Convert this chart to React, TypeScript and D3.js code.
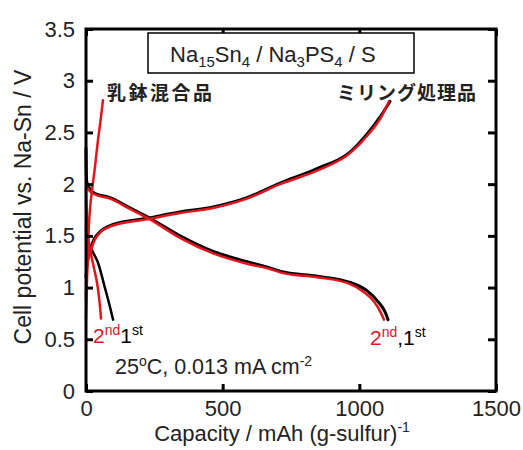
import React, { useEffect, useRef } from "react";
import * as d3 from "d3";

// capacity (mAh/g-sulfur), potential (V)
const xTicks = [0, 500, 1000, 1500];
const yTicks = [0, 0.5, 1, 1.5, 2, 2.5, 3, 3.5];

const milledDischarge1st: [number, number][] = [
  [0, 2.35], [1, 2.12], [3, 2.02], [15, 1.95], [33, 1.91], [88, 1.87], [161, 1.77],
  [234, 1.67], [344, 1.5], [465, 1.35], [589, 1.25], [673, 1.19], [722, 1.15],
  [845, 1.11], [966, 1.05], [1028, 0.97], [1070, 0.86], [1095, 0.76], [1105, 0.69],
];
const milledDischarge2nd: [number, number][] = [
  [0, 2.02], [3, 1.98], [15, 1.93], [33, 1.9], [88, 1.86], [161, 1.76], [234, 1.66],
  [344, 1.48], [465, 1.33], [589, 1.23], [673, 1.18], [722, 1.14], [845, 1.1],
  [960, 1.04], [1015, 0.96], [1055, 0.86], [1078, 0.76], [1090, 0.69],
];
const milledCharge1st: [number, number][] = [
  [0, 1.1], [5, 1.26], [15, 1.36], [30, 1.47], [51, 1.54], [99, 1.61], [223, 1.67],
  [344, 1.73], [465, 1.78], [589, 1.87], [710, 2.01], [845, 2.15], [966, 2.31],
  [1039, 2.52], [1076, 2.65], [1112, 2.8],
];
const milledCharge2nd: [number, number][] = [
  [0, 0.9], [5, 1.22], [15, 1.33], [30, 1.45], [51, 1.53], [99, 1.6], [223, 1.66],
  [344, 1.72], [465, 1.77], [589, 1.86], [710, 2.0], [845, 2.13], [966, 2.3],
  [1039, 2.5], [1076, 2.63], [1108, 2.8],
];
const mortarDischarge1st: [number, number][] = [
  [0, 1.55], [8, 1.45], [20, 1.37], [44, 1.24], [69, 1.0], [88, 0.81], [99, 0.69],
];
const mortarDischarge2nd: [number, number][] = [
  [0, 1.95], [3, 1.7], [8, 1.5], [18, 1.33], [30, 1.18], [42, 1.02], [50, 0.85], [55, 0.7],
];
const mortarCharge: [number, number][] = [
  [0, 0.7], [3, 1.0], [6, 1.3], [11, 1.62], [16, 1.8], [22, 1.94], [33, 2.17],
  [44, 2.43], [55, 2.65], [62, 2.81],
];

const left = 86;
const right = 496;
const top = 29;
const bottom = 391;
const RED = "#e3141c";
const FONT = "'Liberation Sans', Arial, sans-serif";
const JP = "'Noto Sans CJK JP', sans-serif";

const x = d3.scaleLinear().domain([0, 1500]).range([left, right]);
const y = d3.scaleLinear().domain([0, 3.5]).range([bottom, top]);
const line = d3
  .line<[number, number]>()
  .x((d) => x(d[0]))
  .y((d) => y(d[1]))
  .curve(d3.curveMonotoneX);

export default function App() {
  const axes = useRef<SVGGElement>(null);

  useEffect(() => {
    const g = d3.select(axes.current);
    g.selectAll("*").remove();

    g.append("g")
      .attr("transform", "translate(" + left + ",0)")
      .call(d3.axisLeft(y).tickValues(yTicks).tickSizeInner(-7).tickSizeOuter(0).tickPadding(11).tickFormat(d3.format("")));
    g.append("g")
      .attr("transform", "translate(" + right + ",0)")
      .call(d3.axisRight(y).tickValues(yTicks).tickSizeInner(-8).tickSizeOuter(0).tickFormat(() => ""));
    g.append("g")
      .attr("transform", "translate(0," + bottom + ")")
      .call(d3.axisBottom(x).tickValues(xTicks).tickSizeInner(-7).tickSizeOuter(0).tickPadding(9).tickFormat(d3.format("")));
    g.append("g")
      .attr("transform", "translate(0," + top + ")")
      .call(d3.axisTop(x).tickValues(xTicks).tickSizeInner(-7).tickSizeOuter(0).tickFormat(() => ""));

    g.selectAll(".domain").remove();
    g.selectAll(".tick line").attr("stroke", "#000").attr("stroke-width", 3);
    g.selectAll(".tick text")
      .attr("font-size", 22)
      .attr("font-family", FONT)
      .attr("fill", "#222");
  }, []);

  return (
    <svg
      width={523}
      height={450}
      style={{ position: "absolute", left: 0, top: 0, display: "block", background: "#fff" }}
    >
      <g fill="none" strokeLinejoin="round" strokeLinecap="round">
        <path d={line(milledDischarge1st) || ""} stroke="#000" strokeWidth={3} />
        <path d={line(milledCharge1st) || ""} stroke="#000" strokeWidth={3} />
        <path d={line(mortarDischarge1st) || ""} stroke="#000" strokeWidth={2.5} />
        <path d={line(milledDischarge2nd) || ""} stroke={RED} strokeWidth={2.5} />
        <path d={line(milledCharge2nd) || ""} stroke={RED} strokeWidth={2.5} />
        <path d={line(mortarDischarge2nd) || ""} stroke={RED} strokeWidth={2.5} />
        <path d={line(mortarCharge) || ""} stroke={RED} strokeWidth={2.5} />
      </g>

      <g ref={axes} />
      <rect x={left} y={top} width={right - left} height={bottom - top} fill="none" stroke="#000" strokeWidth={3} />

      <rect x={148} y={33} width={266} height={40} fill="#fff" stroke="#000" strokeWidth={1.5} />
      <text x={170} y={62} fontSize={22} fontFamily={FONT} fill="#222">
        Na<tspan dy={5} fontSize={15}>15</tspan>
        <tspan dy={-5}>Sn</tspan>
        <tspan dy={5} fontSize={15}>4</tspan>
        <tspan dy={-5}> / Na</tspan>
        <tspan dy={5} fontSize={15}>3</tspan>
        <tspan dy={-5}>PS</tspan>
        <tspan dy={5} fontSize={15}>4</tspan>
        <tspan dy={-5}> / S</tspan>
      </text>

      <text x={107} y={100} fontSize={19} fontWeight="bold" fontFamily={JP} letterSpacing={2.5} fill="#222">
        乳鉢混合品
      </text>
      <text x={477} y={100} fontSize={19} fontWeight="bold" fontFamily={JP} letterSpacing={1} textAnchor="end" fill="#222">
        ミリング処理品
      </text>

      <text x={93} y={343} fontSize={21} fontFamily={FONT}>
        <tspan fill={RED}>2</tspan>
        <tspan fill={RED} dy={-8} fontSize={14}>nd</tspan>
        <tspan dy={8} fill="#000">1</tspan>
        <tspan dy={-8} fontSize={14} fill="#000">st</tspan>
      </text>
      <text x={370} y={345} fontSize={21} fontFamily={FONT}>
        <tspan fill={RED}>2</tspan>
        <tspan fill={RED} dy={-8} fontSize={14}>nd</tspan>
        <tspan dy={8} fill="#000">,1</tspan>
        <tspan dy={-8} fontSize={14} fill="#000">st</tspan>
      </text>
      <text x={115} y={374} fontSize={21.5} fontFamily={FONT} fill="#222">
        25<tspan dy={-8} fontSize={14}>o</tspan>
        <tspan dy={8}>C, 0.013 mA cm</tspan>
        <tspan dy={-8} fontSize={14}>-2</tspan>
      </text>

      <text x={282} y={441} fontSize={22} fontFamily={FONT} textAnchor="middle" fill="#222">
        Capacity / mAh (g-sulfur)<tspan dy={-9} fontSize={14}>-1</tspan>
      </text>
      <text
        transform="translate(31,207) rotate(-90)"
        fontSize={23}
        fontFamily={FONT}
        textAnchor="middle"
        fill="#222"
      >
        Cell potential vs. Na-Sn / V
      </text>
    </svg>
  );
}
